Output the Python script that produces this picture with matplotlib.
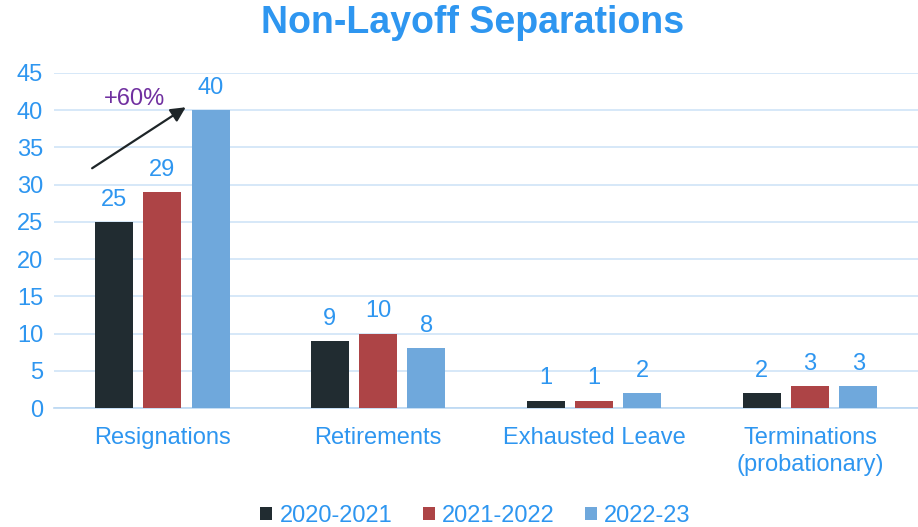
import numpy as np
import matplotlib
matplotlib.use("Agg")
import matplotlib.pyplot as plt

categories = ["Resignations", "Retirements", "Exhausted Leave", "Terminations\n(probationary)"]
series_names = ["2020-2021", "2021-2022", "2022-23"]
vals_2021 = [25, 9, 1, 2]
vals_2122 = [29, 10, 1, 3]
vals_2223 = [40, 8, 2, 3]

colors = ["#212C31", "#AD4446", "#6FA8DC"]
txt_blue = "#2E96F0"
grid_col = "#CFE4F7"

plt.rcParams['font.family'] = ['Liberation Sans', 'DejaVu Sans']

fig = plt.figure(figsize=(9.18, 5.27), dpi=100)
ax = fig.add_axes([0.059, 0.2258, 0.941, 0.6357])

x = np.arange(len(categories))
w = 0.176
off = 0.224
for i, (vals, name) in enumerate(zip([vals_2021, vals_2122, vals_2223], series_names)):
    bars = ax.bar(x + (i - 1) * off, vals, w, color=colors[i], label=name, zorder=3)
    for b, v in zip(bars, vals):
        ax.annotate(str(v), (b.get_x() + b.get_width() / 2, v), xytext=(0, 8),
                    textcoords="offset points", ha="center", va="bottom",
                    fontsize=17, color=txt_blue)

ax.set_xlim(-0.5, 3.5)
ax.set_ylim(0, 45)
ax.set_yticks(range(0, 46, 5))
ax.set_xticks(x)
ax.set_xticklabels(categories, linespacing=1.25)
ax.tick_params(axis="both", length=0, labelsize=17, labelcolor=txt_blue)
ax.tick_params(axis="x", pad=14)
ax.tick_params(axis="y", pad=8)
ax.grid(axis="y", color=grid_col, linewidth=1.2, zorder=0)
for s in ["top", "right", "left"]:
    ax.spines[s].set_visible(False)
ax.spines["bottom"].set_color("#BBD8F2")
ax.spines["bottom"].set_linewidth(1.2)

# growth arrow on resignations
ax.annotate("", xy=(0.12, 40.6), xytext=(-0.335, 32.0),
            arrowprops=dict(arrowstyle="-|>", color="#1E2528", lw=1.6, mutation_scale=22), zorder=4)
ax.text(-0.13, 41.5, "+60%", ha="center", va="center", fontsize=17, color="#7030A0", zorder=4)

fig.suptitle("Non-Layoff Separations", x=0.515, y=0.99, fontsize=27, fontweight="bold", color=txt_blue)

leg = fig.legend(loc="lower center", bbox_to_anchor=(0.518, -0.04), ncol=3, frameon=False,
                 fontsize=17, handlelength=0.5, handleheight=0.5, handletextpad=0.3, columnspacing=1.3)
for t in leg.get_texts():
    t.set_color(txt_blue)

fig.savefig("out.png", dpi=100)
